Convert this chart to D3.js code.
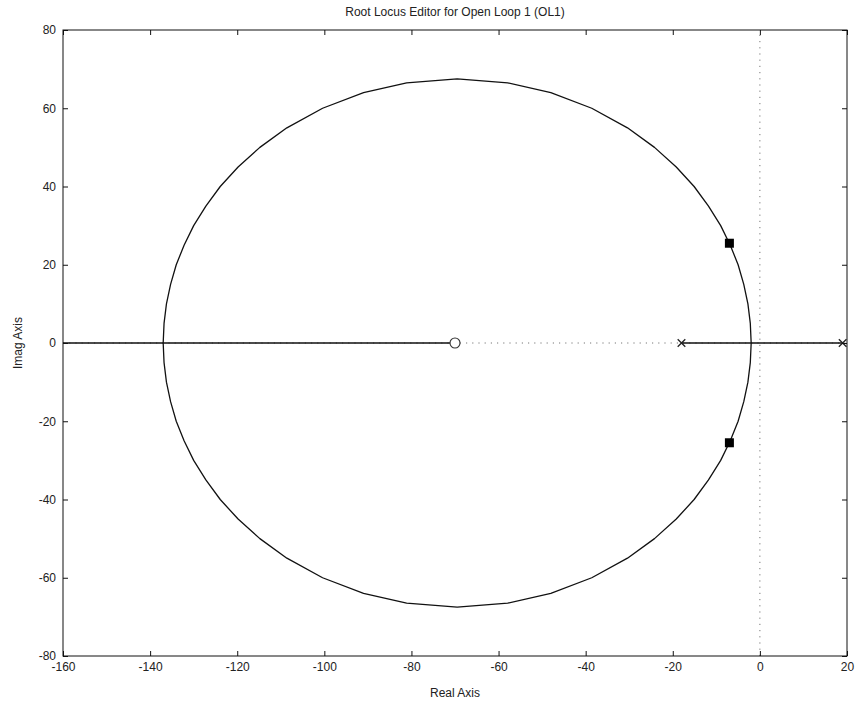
<!DOCTYPE html>
<html>
<head>
<meta charset="utf-8">
<script src="https://cdn.jsdelivr.net/npm/d3@7"></script>
<style>
  html, body { margin: 0; padding: 0; background: #fff; }
  svg text { font-family: "Liberation Sans", Arial, sans-serif; fill: #222; }
</style>
</head>
<body>
<svg id="chart" width="856" height="702"></svg>
<script>
// Open-loop zeros and poles (real parts; all lie on the real axis)
const zeros = [-70];
const poles = [-18, 19];

// Closed-loop poles at the current gain
const closedLoopPoles = [[-7, 25.5], [-7, -25.5]];

// Upper complex branch of the locus, from the breakaway point around to the break-in point
const branchRe = [-2, -2.2, -2.75, -3.7, -5, -6.8, -9, -11.8, -15.1, -19.2, -24.2, -30.4, -38.6, -48, -57.9,
                  -69.5, -81.1, -91, -100.4, -108.6, -114.8, -119.8, -123.9, -127.2, -130, -132.2, -134, -135.3, -136.25, -136.8, -137];
const branchIm = [0, 5, 10, 15, 20, 25, 30, 35, 40, 45, 50, 55, 60, 64, 66.5,
                  67.5, 66.5, 64, 60, 55, 50, 45, 40, 35, 30, 25, 20, 15, 10, 5, 0];

// Real-axis segments of the locus
const realSegments = [[-160, -70], [-18, 19]];

// Axis ticks
const xTicks = [-160, -140, -120, -100, -80, -60, -40, -20, 0, 20];
const yTicks = [-80, -60, -40, -20, 0, 20, 40, 60, 80];

const titleText = "Root Locus Editor for Open Loop 1 (OL1)";
const xLabel = "Real Axis";
const yLabel = "Imag Axis";

const svg = d3.select("#chart");
const plot = { left: 63, right: 847, top: 30, bottom: 656 };

const x = d3.scaleLinear().domain([-160, 20]).range([plot.left, plot.right]);
const y = d3.scaleLinear().domain([-80, 80]).range([plot.bottom, plot.top]);

// Dotted reference axes through the origin
const g = svg.append("g");
g.append("line")
  .attr("x1", x(-160)).attr("x2", x(20)).attr("y1", y(0)).attr("y2", y(0))
  .attr("stroke", "#777").attr("stroke-width", 1).attr("stroke-dasharray", "1.2,5");
g.append("line")
  .attr("x1", x(0)).attr("x2", x(0)).attr("y1", y(-80)).attr("y2", y(80))
  .attr("stroke", "#777").attr("stroke-width", 1).attr("stroke-dasharray", "1.2,5");

// Complex branches (conjugate pair)
const upper = branchRe.map((r, i) => [r, branchIm[i]]);
const lower = branchRe.map((r, i) => [r, -branchIm[i]]);
const line = d3.line().x(d => x(d[0])).y(d => y(d[1]));
[upper, lower].forEach(b => {
  g.append("path").attr("d", line(b))
    .attr("fill", "none").attr("stroke", "#111").attr("stroke-width", 1.3)
    .attr("stroke-linejoin", "round");
});

// Real-axis branches
realSegments.forEach(s => {
  g.append("line")
    .attr("x1", x(s[0])).attr("x2", x(s[1])).attr("y1", y(0)).attr("y2", y(0))
    .attr("stroke", "#111").attr("stroke-width", 1.3);
});

// Zeros (o)
g.selectAll(".zero").data(zeros).enter().append("circle")
  .attr("cx", d => x(d)).attr("cy", y(0)).attr("r", 5)
  .attr("fill", "#fff").attr("stroke", "#333").attr("stroke-width", 1.1);

// Poles (x)
const ps = 3.8;
poles.forEach(p => {
  const cx = x(p), cy = y(0);
  g.append("path")
    .attr("d", `M${cx-ps},${cy-ps}L${cx+ps},${cy+ps}M${cx-ps},${cy+ps}L${cx+ps},${cy-ps}`)
    .attr("stroke", "#222").attr("stroke-width", 1.3);
});

// Closed-loop poles (filled squares)
g.selectAll(".clp").data(closedLoopPoles).enter().append("rect")
  .attr("x", d => x(d[0]) - 4.5).attr("y", d => y(d[1]) - 4.5)
  .attr("width", 9).attr("height", 9).attr("fill", "#000");

// Axes box with inward ticks on all sides
const tickLen = 5;
const axes = svg.append("g");
axes.append("rect")
  .attr("x", plot.left).attr("y", plot.top)
  .attr("width", plot.right - plot.left).attr("height", plot.bottom - plot.top)
  .attr("fill", "none").attr("stroke", "#111").attr("stroke-width", 1);

const fmt = d => String(d);
const axBottom = d3.axisBottom(x).tickValues(xTicks).tickSize(-tickLen).tickPadding(6).tickFormat(fmt);
const axTop = d3.axisTop(x).tickValues(xTicks).tickSize(-tickLen).tickFormat("");
const axLeft = d3.axisLeft(y).tickValues(yTicks).tickSize(-tickLen).tickPadding(7).tickFormat(fmt);
const axRight = d3.axisRight(y).tickValues(yTicks).tickSize(-tickLen).tickFormat("");

function style(sel) {
  sel.select(".domain").remove();
  sel.selectAll(".tick line").attr("stroke", "#111");
  sel.selectAll(".tick text").attr("font-size", 12).attr("fill", "#222")
    .style("font-family", '"Liberation Sans", Arial, sans-serif');
}
axes.append("g").attr("transform", `translate(0,${plot.bottom})`).call(axBottom).call(style);
axes.append("g").attr("transform", `translate(0,${plot.top})`).call(axTop).call(style);
axes.append("g").attr("transform", `translate(${plot.left},0)`).call(axLeft).call(style);
axes.append("g").attr("transform", `translate(${plot.right},0)`).call(axRight).call(style);

// Title and axis labels
svg.append("text").attr("x", (plot.left + plot.right) / 2).attr("y", 16)
  .attr("text-anchor", "middle").attr("font-size", 12).text(titleText);
svg.append("text").attr("x", (plot.left + plot.right) / 2).attr("y", 697)
  .attr("text-anchor", "middle").attr("font-size", 12).text(xLabel);
svg.append("text").attr("transform", `translate(22,${(plot.top + plot.bottom) / 2}) rotate(-90)`)
  .attr("text-anchor", "middle").attr("font-size", 12).text(yLabel);
</script>
</body>
</html>
